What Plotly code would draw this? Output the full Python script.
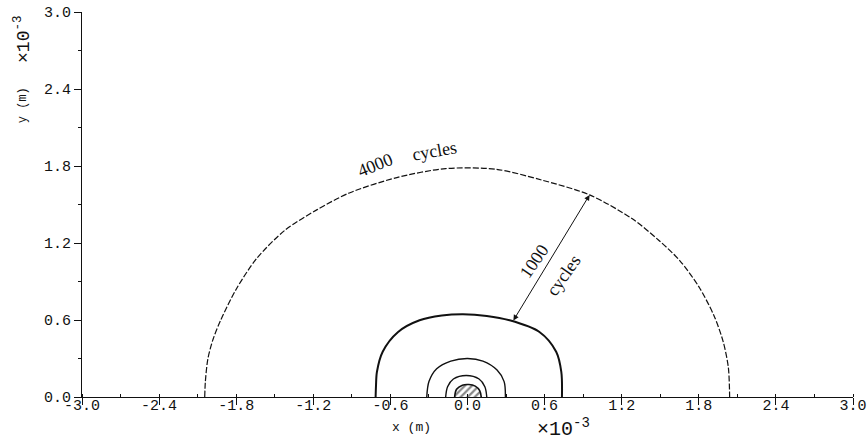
import plotly.graph_objects as go

# Crack-front contours, coordinates in units of 1e-3 m
core_x = [-0.10, -0.085, -0.04, 0.01, 0.06, 0.095, 0.107]
core_y = [0.0, 0.06, 0.092, 0.097, 0.085, 0.05, 0.0]

front2_x = [-0.17, -0.155, -0.11, -0.01, 0.09, 0.135, 0.15]
front2_y = [0.0, 0.08, 0.14, 0.168, 0.14, 0.08, 0.0]

front3_x = [-0.317, -0.30, -0.24, -0.13, 0.0, 0.12, 0.23, 0.285, 0.295]
front3_y = [0.0, 0.12, 0.22, 0.28, 0.30, 0.28, 0.21, 0.12, 0.0]

front1000_x = [-0.715, -0.712, -0.705, -0.66, -0.54, -0.373, -0.20, -0.035, 0.15,
               0.327, 0.56, 0.69, 0.73, 0.735]
front1000_y = [0.0, 0.09, 0.195, 0.353, 0.507, 0.598, 0.635, 0.645, 0.632,
               0.598, 0.507, 0.353, 0.195, 0.0]

front4000_x = [-2.045, -2.04, -2.02, -1.98, -1.92, -1.80, -1.64, -1.42, -1.17,
               -0.92, -0.55, -0.17, 0.22, 0.58, 0.95, 1.28, 1.49, 1.65, 1.80,
               1.92, 1.99, 2.03, 2.04]
front4000_y = [0.0, 0.12, 0.30, 0.45, 0.60, 0.84, 1.08, 1.30, 1.46,
               1.59, 1.71, 1.78, 1.775, 1.69, 1.575, 1.39, 1.22, 1.065, 0.86,
               0.63, 0.43, 0.23, 0.0]

x_ticks = [-3.0, -2.4, -1.8, -1.2, -0.6, 0.0, 0.6, 1.2, 1.8, 2.4, 3.0]
y_ticks = [0.0, 0.6, 1.2, 1.8, 2.4, 3.0]

INK = "#111111"
MONO = "Liberation Mono, DejaVu Sans Mono, monospace"
SERIF = "Liberation Serif, DejaVu Serif, serif"

fig = go.Figure()

# hatched initial flaw
fig.add_trace(go.Scatter(
    x=core_x, y=core_y, mode="lines", fill="toself",
    fillcolor="white",
    fillpattern=dict(shape="/", size=5, solidity=0.45, fgcolor=INK, bgcolor="white"),
    line=dict(color=INK, width=1.6, shape="spline", smoothing=1.0), hoverinfo="skip"))

for xs, ys, w in [(front2_x, front2_y, 1.4), (front3_x, front3_y, 1.4),
                  (front1000_x, front1000_y, 2.0)]:
    fig.add_trace(go.Scatter(x=xs, y=ys, mode="lines",
                             line=dict(color=INK, width=w, shape="spline", smoothing=0.9),
                             hoverinfo="skip"))

fig.add_trace(go.Scatter(x=front4000_x, y=front4000_y, mode="lines",
                         line=dict(color=INK, width=1.2, dash="6px,2px",
                                   shape="spline", smoothing=0.8),
                         hoverinfo="skip"))

# double-headed arrow between the 1000-cycle and 4000-cycle fronts
fig.add_annotation(x=0.95, y=1.575, ax=0.35, ay=0.585, axref="x", ayref="y",
                   xref="x", yref="y", showarrow=True, arrowside="end+start",
                   arrowhead=2, arrowsize=1.1, arrowwidth=1, arrowcolor=INK,
                   standoff=0, startstandoff=0, text="")

serif_font = dict(family=SERIF, size=18, color=INK)
fig.add_annotation(x=0.52, y=1.06, text="1000", textangle=-55, showarrow=False,
                   font=serif_font)
fig.add_annotation(x=0.75, y=0.95, text="cycles", textangle=-55, showarrow=False,
                   font=serif_font)
fig.add_annotation(x=-0.72, y=1.81, text="4000", textangle=-22, showarrow=False,
                   font=serif_font)
fig.add_annotation(x=-0.26, y=1.92, text="cycles", textangle=-10, showarrow=False,
                   font=serif_font)

# axis titles with the 1e-3 multiplier
fig.add_annotation(xref="paper", yref="paper", x=-0.0765, y=0.758,
                   xanchor="center", yanchor="middle",
                   text="y (m)", textangle=-90, showarrow=False,
                   font=dict(family=MONO, size=12, color=INK))
fig.add_annotation(xref="paper", yref="paper", x=-0.0765, y=0.93,
                   xanchor="center", yanchor="middle",
                   text="×10<sup>-3</sup>", textangle=-90, showarrow=False,
                   font=dict(family=MONO, size=18, color=INK))
fig.add_annotation(xref="paper", yref="paper", x=0.427, y=-0.078,
                   xanchor="center", yanchor="middle",
                   text="x (m)", showarrow=False,
                   font=dict(family=MONO, size=13, color=INK))
fig.add_annotation(xref="paper", yref="paper", x=0.624, y=-0.08,
                   xanchor="center", yanchor="middle",
                   text="×10<sup>-3</sup>", showarrow=False,
                   font=dict(family=MONO, size=20, color=INK))

tick_font = dict(family=MONO, size=15, color=INK)
fig.update_xaxes(range=[-3.0, 3.0], tickvals=x_ticks,
                 ticktext=[f"{v:.1f}" for v in x_ticks],
                 showgrid=False, zeroline=False, showline=True, linecolor=INK,
                 linewidth=1, ticks="outside", ticklen=7, tickcolor=INK,
                 ticklabelstandoff=-13, automargin=False,
                 minor=dict(dtick=0.3, tick0=0, ticks="inside", ticklen=3,
                            tickcolor=INK, showgrid=False),
                 tickfont=tick_font, fixedrange=True)
fig.update_yaxes(range=[0.0, 3.0], tickvals=y_ticks,
                 ticktext=[f"{v:.1f}" for v in y_ticks],
                 showgrid=False, zeroline=False, showline=True, linecolor=INK,
                 linewidth=1, ticks="outside", ticklen=7, tickcolor=INK,
                 automargin=False,
                 minor=dict(dtick=0.3, tick0=0, ticks="outside", ticklen=3,
                            tickcolor=INK, showgrid=False),
                 tickfont=tick_font, fixedrange=True)

fig.update_layout(width=868, height=442, showlegend=False,
                  margin=dict(l=82, r=15, t=12, b=45, autoexpand=False),
                  paper_bgcolor="white", plot_bgcolor="white")

fig.write_html("out.html", config={"displayModeBar": False})
